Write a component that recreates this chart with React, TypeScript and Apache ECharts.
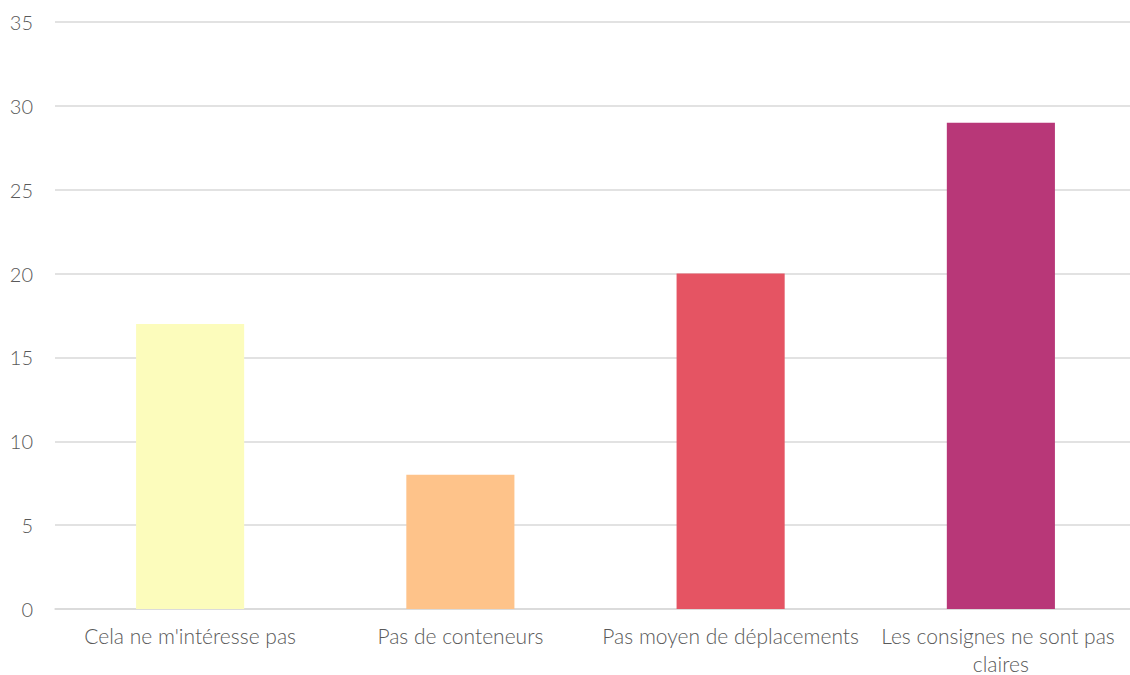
import React, { useEffect, useRef } from "react";
import * as echarts from "echarts";

const categories = [
  "Cela ne m'intéresse pas",
  "Pas de conteneurs",
  "Pas moyen de déplacements",
  "Les consignes ne sont pas claires",
];
const values = [17, 8, 20, 29];
const colors = ["#FCFCBC", "#FEC38A", "#E55463", "#B83778"];
const yTicks = { min: 0, max: 35, interval: 5 };

export default function App() {
  const ref = useRef<HTMLDivElement>(null);
  useEffect(() => {
    const chart = echarts.init(ref.current!, null, { renderer: "svg" });
    chart.setOption({
      animation: false,
      grid: {
        left: 55,
        top: 22,
        right: -6,
        bottom: 66,
        containLabel: false,
        outerBoundsMode: "none",
      },
      xAxis: {
        type: "category",
        data: categories,
        axisTick: { show: false },
        axisLine: { lineStyle: { color: "#d9d9d9", width: 1.5 } },
        axisLabel: {
          color: "#595959",
          fontFamily: "Lato",
          fontWeight: 300,
          fontSize: 21,
          margin: 12,
          width: 276,
          overflow: "break",
          lineHeight: 28,
          interval: 0,
        },
      },
      yAxis: {
        type: "value",
        min: yTicks.min,
        max: yTicks.max,
        interval: yTicks.interval,
        axisLine: { show: false },
        axisTick: { show: false },
        splitLine: { lineStyle: { color: "#d9d9d9", width: 1.5 } },
        axisLabel: {
          color: "#595959",
          fontFamily: "Lato",
          fontWeight: 300,
          fontSize: 20,
          margin: 22,
        },
      },
      series: [
        {
          type: "bar",
          barWidth: "40%",
          data: values.map((v, i) => ({ value: v, itemStyle: { color: colors[i] } })),
        },
      ],
    });
    return () => chart.dispose();
  }, []);
  return (
    <div
      ref={ref}
      style={{ position: "fixed", left: 0, top: 0, width: 1130, height: 675, background: "#fff" }}
    />
  );
}
